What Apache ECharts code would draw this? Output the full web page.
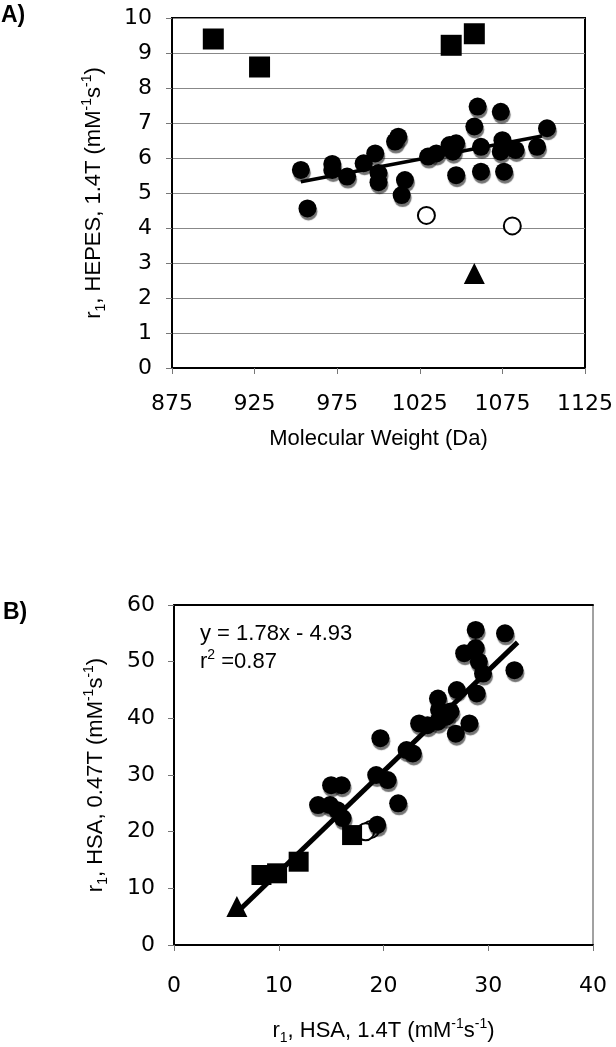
<!DOCTYPE html>
<html>
<head>
<meta charset="utf-8">
<script src="https://cdn.jsdelivr.net/npm/echarts@6/dist/echarts.min.js"></script>
<style>
  html, body { margin: 0; padding: 0; background: #fff; }
  #chart { width: 616px; height: 1047px; }
</style>
</head>
<body>
<div id="chart"></div>
<script>
// panel A: molecular weight (Da) vs r1 HEPES 1.4T
const aCircles = [
  [953, 5.66], [957, 4.56], [972, 5.83], [972, 5.66], [981, 5.47], [991, 5.85],
  [998, 6.13], [1000, 5.57], [1000, 5.31], [1010, 6.47], [1012, 6.61], [1016, 5.37],
  [1014, 4.94], [1030, 6.04], [1035, 6.13], [1043, 6.37], [1047, 6.42], [1045, 6.18],
  [1047, 5.51], [1058, 6.9], [1060, 7.47], [1062, 6.32], [1062, 5.61], [1074, 7.32],
  [1075, 6.51], [1074, 6.18], [1076, 5.61], [1083, 6.23], [1096, 6.32], [1102, 6.85]
]
const aSquares = [[900, 9.4], [928, 8.6], [1044, 9.22], [1058, 9.55]]
const aOpen = [[1029, 4.36], [1081, 4.06]]
const aTriangle = [[1058, 2.7]]
const aTrend = [[953, 5.32], [1099, 6.63]]

// panel B: r1 HSA 1.4T vs r1 HSA 0.47T
const bCircles = [
  [13.75, 24.7], [14.9, 24.7], [15.6, 23.8], [16.1, 22.4], [15.0, 28.2], [16.0, 28.2],
  [19.3, 30.0], [20.4, 29.1], [19.4, 21.2], [21.4, 25.0], [19.7, 36.5], [22.2, 34.4],
  [22.8, 33.8], [23.4, 39.1], [24.2, 38.8], [25.2, 39.4], [26.0, 40.3], [25.3, 41.5],
  [26.4, 41.2], [25.2, 43.5], [27.0, 45.0], [28.9, 44.4], [26.9, 37.3], [28.2, 39.1],
  [27.7, 51.5], [28.8, 52.4], [28.8, 55.6], [29.1, 50.0], [29.5, 47.9], [31.6, 55.0],
  [32.5, 48.5]
]
const bSquares = [[8.35, 12.35], [9.84, 12.65], [11.9, 14.7], [17.0, 19.4]]
const bOpen = [[18.8, 20.4], [18.3, 20.0]]
const bTriangle = [[6.0, 6.8]]
const bTrend = [[6.1, 5.9], [32.8, 53.4]]

const tickFont = { fontFamily: 'DejaVu Sans', fontSize: 22, color: '#000', formatter: v => String(v) }
const nameRich = {
  a: { fontFamily: 'Liberation Sans', fontSize: 22, color: '#000', lineHeight: 28 },
  sup: { fontFamily: 'Liberation Sans', fontSize: 14, color: '#000', lineHeight: 28, verticalAlign: 'top' },
  sub: { fontFamily: 'Liberation Sans', fontSize: 14, color: '#000', lineHeight: 28, verticalAlign: 'bottom' }
}
const dotStyle = {
  color: '#000', opacity: 1,
  shadowColor: 'rgba(0,0,0,0.55)', shadowBlur: 1, shadowOffsetX: 1, shadowOffsetY: 3
}
const solid = { color: '#000', opacity: 1 }
const openStyle = { color: '#fff', borderColor: '#000', borderWidth: 2, opacity: 1 }

function scatter(data, idx, symbol, size, style, z) {
  return {
    type: 'scatter', xAxisIndex: idx, yAxisIndex: idx, data: data,
    symbol: symbol, symbolSize: size, itemStyle: style, z: z, silent: true
  }
}

const chart = echarts.init(document.getElementById('chart'))
chart.setOption({
  animation: false,
  grid: [
    { left: 172, top: 18, width: 415, height: 350, show: true, borderColor: '#000', borderWidth: 2 },
    { left: 174, top: 605, width: 419, height: 340, show: true, borderColor: '#444', borderWidth: 1 }
  ],
  xAxis: [
    {
      gridIndex: 0, type: 'value', min: 875, max: 1125, interval: 50,
      axisLine: { lineStyle: { color: '#000', width: 2 } },
      axisTick: { show: true, inside: false, length: 6, lineStyle: { color: '#777' } },
      axisLabel: Object.assign({ margin: 25 }, tickFont),
      splitLine: { show: false },
      name: 'Molecular Weight (Da)', nameLocation: 'middle', nameGap: 60,
      nameTextStyle: { fontFamily: 'Liberation Sans', fontSize: 22, color: '#000' }
    },
    {
      gridIndex: 1, type: 'value', min: 0, max: 40, interval: 10,
      axisLine: { lineStyle: { color: '#000', width: 2 } },
      axisTick: { show: true, inside: false, length: 6, lineStyle: { color: '#777' } },
      axisLabel: Object.assign({ margin: 30 }, tickFont),
      splitLine: { show: false },
      name: '{a|r}{sub|1}{a|, HSA, 1.4T (mM}{sup|-1}{a|s}{sup|-1}{a|)}',
      nameLocation: 'middle', nameGap: 72,
      nameTextStyle: { rich: nameRich }
    },
    {
      gridIndex: 1, type: 'value', position: 'top', min: 0, max: 40,
      axisLine: { show: true, lineStyle: { color: '#000', width: 2 } },
      axisTick: { show: false }, axisLabel: { show: false }, splitLine: { show: false }
    }
  ],
  yAxis: [
    {
      gridIndex: 0, type: 'value', min: 0, max: 10, interval: 1,
      axisLine: { show: true, lineStyle: { color: '#000', width: 2 } },
      axisTick: { show: true, inside: false, length: 6, lineStyle: { color: '#777' } },
      axisLabel: Object.assign({ margin: 20 }, tickFont),
      splitLine: { show: true, lineStyle: { color: '#888', width: 1 } },
      name: '{a|r}{sub|1}{a|, HEPES, 1.4T (mM}{sup|-1}{a|s}{sup|-1}{a|)}',
      nameLocation: 'middle', nameRotate: 90, nameGap: 64,
      nameTextStyle: { rich: nameRich }
    },
    {
      gridIndex: 1, type: 'value', min: 0, max: 60, interval: 10,
      axisLine: { show: true, lineStyle: { color: '#000', width: 2 } },
      axisTick: { show: true, inside: false, length: 6, lineStyle: { color: '#777' } },
      axisLabel: Object.assign({ margin: 19 }, tickFont),
      splitLine: { show: false },
      name: '{a|r}{sub|1}{a|, HSA, 0.47T (mM}{sup|-1}{a|s}{sup|-1}{a|)}',
      nameLocation: 'middle', nameRotate: 90, nameGap: 64,
      nameTextStyle: { rich: nameRich }
    }
  ],
  graphic: [
    { type: 'text', left: 1, top: 4, style: { text: 'A)', font: 'bold 23px "Liberation Sans"', fill: '#000' } },
    { type: 'text', left: 3, top: 601, style: { text: 'B)', font: 'bold 23px "Liberation Sans"', fill: '#000' } },
    { type: 'text', left: 200, top: 623, style: { text: 'y = 1.78x - 4.93', font: '22px "Liberation Sans"', fill: '#000' } },
    {
      type: 'text', left: 200, top: 648,
      style: {
        text: '{a|r}{s|2}{a| =0.87}',
        rich: {
          a: { font: '22px "Liberation Sans"', fill: '#000', lineHeight: 28 },
          s: { font: '14px "Liberation Sans"', fill: '#000', lineHeight: 28, verticalAlign: 'top' }
        }
      }
    }
  ],
  series: [
    { type: 'line', xAxisIndex: 0, yAxisIndex: 0, data: aTrend, symbol: 'none',
      lineStyle: { color: '#000', width: 3.5 }, z: 3, silent: true },
    scatter(aCircles, 0, 'circle', 18, dotStyle, 4),
    scatter(aSquares, 0, 'rect', 21, solid, 4),
    scatter(aOpen, 0, 'circle', 17, openStyle, 4),
    scatter(aTriangle, 0, 'triangle', 21, solid, 4),

    scatter(bOpen, 1, 'circle', 17, openStyle, 3),
    scatter(bCircles, 1, 'circle', 18, dotStyle, 4),
    scatter(bSquares, 1, 'rect', 20, solid, 4),
    scatter(bTriangle, 1, 'triangle', 21, solid, 4),
    { type: 'line', xAxisIndex: 1, yAxisIndex: 1, data: bTrend, symbol: 'none',
      lineStyle: { color: '#000', width: 5 }, z: 5, silent: true }
  ]
})
</script>
</body>
</html>
